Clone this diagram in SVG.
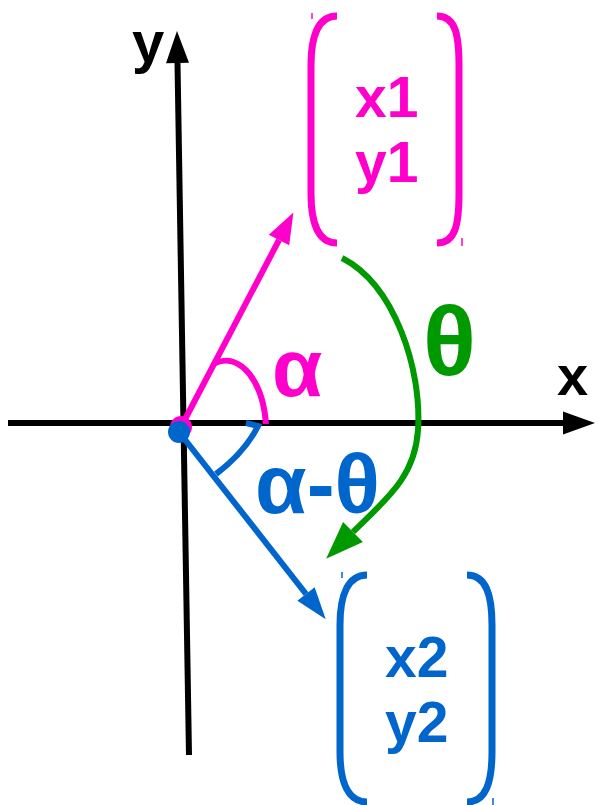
<svg xmlns="http://www.w3.org/2000/svg" width="598" height="805" viewBox="0 0 598 805">
<style>
  text { font-family: "Liberation Sans", Arial, sans-serif; font-weight: bold; }
  .ax { stroke: #000; stroke-width: 6; fill: none; }
  .pk { stroke: #ff00cc; fill: none; }
  .bl { stroke: #0066cc; fill: none; }
  .gr { stroke: #009900; fill: none; }
  .tpk { fill: #ff00cc; }
  .tbl { fill: #0066cc; }
  .tgr { fill: #009900; }
  .tk { fill: #000; }
</style>
<defs>
  <marker id="ahK" markerUnits="userSpaceOnUse" markerWidth="32" markerHeight="23" refX="0" refY="11.5" orient="auto" overflow="visible">
    <path d="M0,0 L32,11.5 L0,23 z" fill="#000"/>
  </marker>
  <marker id="ahP" markerUnits="userSpaceOnUse" markerWidth="31" markerHeight="23" refX="0" refY="11.5" orient="auto" overflow="visible">
    <path d="M0,0 L31,11.5 L0,23 z" fill="#ff00cc"/>
  </marker>
  <marker id="ahB" markerUnits="userSpaceOnUse" markerWidth="32" markerHeight="22" refX="0" refY="11" orient="auto" overflow="visible">
    <path d="M0,0 L32,11 L0,22 z" fill="#0066cc"/>
  </marker>
  <marker id="ahG" markerUnits="userSpaceOnUse" markerWidth="38" markerHeight="28" refX="0" refY="14" orient="auto" overflow="visible">
    <path d="M0,0 L38,14 L0,28 z" fill="#009900"/>
  </marker>
</defs>

<g id="axes">
  <line class="ax" x1="8" y1="423" x2="563" y2="423" marker-end="url(#ahK)"/>
  <line class="ax" x1="189" y1="755" x2="177.5" y2="63" marker-end="url(#ahK)"/>
  <text class="tk" x="557" y="395" font-size="56">x</text>
  <text class="tk" x="132" y="62" font-size="58">y</text>
</g>

<g id="connectors">
  <line class="pk" stroke-width="6" x1="181" y1="427" x2="279" y2="240" marker-end="url(#ahP)"/>
  <line class="bl" stroke-width="6" x1="179" y1="432" x2="306" y2="594" marker-end="url(#ahB)"/>
  <path class="gr" stroke-width="6" d="M342 258 C395 285 422 370 418 430 C415 478 385 500 353 532" marker-end="url(#ahG)"/>
  <path class="pk" stroke-width="6" d="M215 363 C241 352 263 382 266 424"/>
  <path class="bl" stroke-width="6" d="M216 474 Q245 452 258 426 L246 423"/>
</g>

<g id="origin">
  <circle cx="181" cy="427" r="11" fill="#ff00cc"/>
  <circle cx="179" cy="432" r="11" fill="#0066cc"/>
</g>

<g id="vec1">
  <path class="pk" stroke-width="7" d="M337 16 C318 16 311 36 311 66 L311 193 C311 223 318 243 337 243"/>
  <path class="pk" stroke-width="7" d="M437 16 C456 16 459 36 459 66 L459 193 C459 223 456 243 437 243"/>
  <line class="pk" stroke-width="1.5" x1="312" y1="13" x2="312" y2="19"/>
  <line class="pk" stroke-width="1.5" x1="462" y1="238" x2="462" y2="246"/>
  <text class="tpk" x="355" y="117" font-size="57">x1</text>
  <text class="tpk" x="355" y="182" font-size="57">y1</text>
</g>

<g id="vec2">
  <path class="bl" stroke-width="7" d="M367 575 C348 575 340 595 340 625 L340 752 C340 782 348 802 367 802"/>
  <path class="bl" stroke-width="7" d="M467 575 C486 575 492 595 492 625 L492 752 C492 782 486 802 467 802"/>
  <line class="bl" stroke-width="1.5" x1="342" y1="572" x2="342" y2="578"/>
  <line class="bl" stroke-width="1.5" x1="493" y1="798" x2="493" y2="805"/>
  <text class="tbl" x="385" y="677" font-size="57">x2</text>
  <text class="tbl" x="385" y="742" font-size="57">y2</text>
</g>

<g id="labels">
  <text class="tpk" x="272" y="396" font-size="82">α</text>
  <text class="tgr" x="423" y="375" font-size="98">θ</text>
  <text class="tbl" x="255" y="513" font-size="84">α-θ</text>
</g>
</svg>
